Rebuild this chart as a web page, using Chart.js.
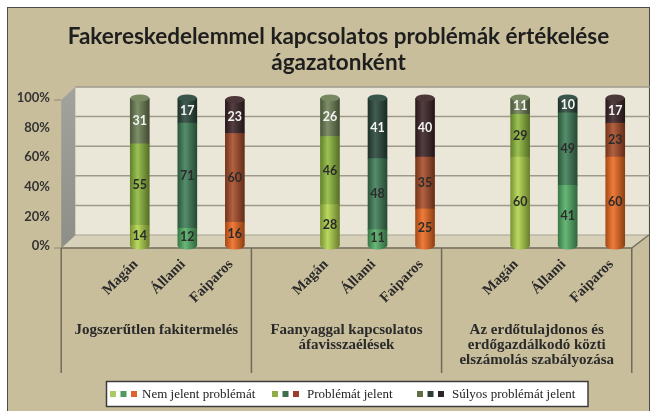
<!DOCTYPE html>
<html>
<head>
<meta charset="utf-8">
<script src="https://cdn.jsdelivr.net/npm/chart.js@4.4.1/dist/chart.umd.min.js"></script>
<style>
html, body { margin: 0; padding: 0; background: #fff; }
#wrap { position: relative; width: 657px; height: 411px; overflow: hidden; }
#frame { position: absolute; left: 7px; top: 7px; width: 641px; height: 420px; border: 1.5px solid #4b4b4b; background: #c9be9c; }
#chart { position: absolute; left: 0; top: 0; }
</style>
</head>
<body>
<div id="wrap">
  <div id="frame"></div>
  <canvas id="chart" width="657" height="411"></canvas>
</div>
<script>
const chartTitle = ['Fakereskedelemmel kapcsolatos problémák értékelése', 'ágazatonként'];
const sectors = ['Magán', 'Állami', 'Faiparos'];
const topics = [
    ['Jogszerűtlen fakitermelés'],
    ['Faanyaggal kapcsolatos', 'áfavisszaélések'],
    ['Az erdőtulajdonos és', 'erdőgazdálkodó közti', 'elszámolás szabályozása'],
];
const levels = ['Nem jelent problémát', 'Problémát jelent', 'Súlyos problémát jelent'];

// Magán, Állami, Faiparos for each topic in turn
const nemJelent = [14, 12, 16, 28, 11, 25, 60, 41, 60];
const problemat = [55, 71, 60, 46, 48, 35, 29, 49, 23];
const sulyos = [31, 17, 23, 26, 41, 40, 11, 10, 17];

// one colour per level and sector
const barColors = [
    ['#b0d44a', '#52ae66', '#ee6a20'],
    ['#8db83c', '#3e7d57', '#a84b27'],
    ['#6c7f54', '#29473a', '#3b2427'],
];
const legendColors = [
    ['#a9c963', '#4f9a60', '#e0622e'],
    ['#8fae48', '#3f6d4d', '#9b3d2c'],
    ['#5f6e46', '#2e3e34', '#2d2426'],
];

// an empty slot between two topics
function withGaps(values) {
    const out = [];
    values.forEach((v, i) => {
        if (i > 0 && i % 3 === 0) out.push(null);
        out.push(v);
    });
    return out;
}

const slotLabels = withGaps(topics.flatMap(() => sectors)).map((l) => l || '');
const sectorOf = withGaps(topics.flatMap(() => [0, 1, 2]));

function shade(hex, amt) {
    const n = parseInt(hex.slice(1), 16);
    const c = [(n >> 16) & 255, (n >> 8) & 255, n & 255].map((v) => {
        const t = amt < 0 ? 0 : 255;
        return Math.round(v + (t - v) * Math.abs(amt));
    });
    return `rgb(${c[0]},${c[1]},${c[2]})`;
}

const BAR_W = 19;

function cylinderFill(ctx, cx, w, base) {
    const g = ctx.createLinearGradient(cx - w / 2, 0, cx + w / 2, 0);
    g.addColorStop(0, shade(base, -0.3));
    g.addColorStop(0.38, shade(base, 0.12));
    g.addColorStop(1, shade(base, -0.4));
    return g;
}

function barFill(context, level) {
    const sector = sectorOf[context.dataIndex];
    if (sector === null || sector === undefined) return 'transparent';
    const base = barColors[level][sector];
    const chart = context.chart;
    if (!chart.chartArea || !chart.scales.x) return base;
    return cylinderFill(chart.ctx, chart.scales.x.getPixelForValue(context.dataIndex), BAR_W, base);
}

// back wall, floor and side wall of the 3D look, plus title, topic labels and legend
const stage = {
    id: 'stage',
    beforeDatasetsDraw(chart) {
        const { ctx, scales: { x, y } } = chart;
        const L = x.getPixelForValue(-1) - 31;
        const R = x.getPixelForValue(11) - 31;
        const yF = (v) => y.getPixelForValue(v) + 2;
        const yB = (v) => y.getPixelForValue(v) - 11;
        const dx = 14;
        ctx.save();
        ctx.fillStyle = '#ebe7d8';
        ctx.fillRect(L + dx, yB(100), R + 17 - (L + dx), yB(0) - yB(100));
        ctx.strokeStyle = '#9d998b';
        ctx.lineWidth = 1.5;
        [20, 40, 60, 80, 100].forEach((v) => {
            ctx.beginPath();
            ctx.moveTo(L + dx, yB(v));
            ctx.lineTo(R + 18, yB(v));
            ctx.stroke();
        });
        // floor
        ctx.fillStyle = '#d7d1b9';
        ctx.beginPath();
        ctx.moveTo(L, yF(0));
        ctx.lineTo(L + dx, yB(0));
        ctx.lineTo(R + 17, yB(0));
        ctx.lineTo(R, yF(0));
        ctx.closePath();
        ctx.fill();
        ctx.strokeStyle = '#a8a392';
        ctx.lineWidth = 1;
        ctx.stroke();
        // side wall
        const sg = ctx.createLinearGradient(0, yB(100), 0, yF(0));
        sg.addColorStop(0, '#a3a39d');
        sg.addColorStop(1, '#8e8e88');
        ctx.fillStyle = sg;
        ctx.beginPath();
        ctx.moveTo(L, yF(100));
        ctx.lineTo(L + dx, yB(100));
        ctx.lineTo(L + dx, yB(0));
        ctx.lineTo(L, yF(0));
        ctx.closePath();
        ctx.fill();
        // front edge
        ctx.strokeStyle = '#77725f';
        ctx.lineWidth = 1.5;
        ctx.beginPath();
        ctx.moveTo(L, yF(0));
        ctx.lineTo(R, yF(0));
        ctx.lineTo(R + 17, yB(0));
        ctx.stroke();
        // little ticks next to the percent labels
        ctx.strokeStyle = '#8a8676';
        ctx.lineWidth = 1;
        [0, 100].forEach((v) => {
            ctx.beginPath();
            ctx.moveTo(L - 7, yF(v));
            ctx.lineTo(L, yF(v));
            ctx.stroke();
        });
        ctx.restore();
    },
    afterDatasetsDraw(chart) {
        const { ctx } = chart;
        ctx.save();
        // rounded bottoms and tops of the cylinders
        chart.getDatasetMeta(0).data.forEach((el, i) => {
            const s = sectorOf[i];
            if (s === null) return;
            ctx.fillStyle = cylinderFill(ctx, el.x, BAR_W, barColors[0][s]);
            ctx.beginPath();
            ctx.ellipse(el.x, el.base, BAR_W / 2, 3.5, 0, 0, Math.PI);
            ctx.fill();
        });
        chart.getDatasetMeta(2).data.forEach((el, i) => {
            const s = sectorOf[i];
            if (s === null) return;
            ctx.fillStyle = shade(barColors[2][s], 0.08);
            ctx.beginPath();
            ctx.ellipse(el.x, el.y, BAR_W / 2, 3.5, 0, 0, Math.PI * 2);
            ctx.fill();
        });
        // value labels
        ctx.font = 'bold 12.5px Lato';
        ctx.textAlign = 'center';
        ctx.textBaseline = 'middle';
        chart.data.datasets.forEach((ds, di) => {
            chart.getDatasetMeta(di).data.forEach((el, i) => {
                const v = ds.data[i];
                if (v === null || v === undefined) return;
                ctx.fillStyle = di === 2 ? '#f3f3f3' : '#2b2b2b';
                ctx.fillText(String(v), el.x, (el.y + el.base) / 2);
            });
        });
        ctx.restore();
    },
    afterDraw(chart) {
        const { ctx, scales: { x, y } } = chart;
        const sep = (i) => x.getPixelForValue(i) - 31;
        const y0 = y.getPixelForValue(0) + 2;
        ctx.save();
        ctx.strokeStyle = '#6f6a5a';
        ctx.lineWidth = 1.5;
        [-1, 3, 7, 11].forEach((i) => {
            ctx.beginPath();
            ctx.moveTo(sep(i), y0);
            ctx.lineTo(sep(i), 373);
            ctx.stroke();
        });
        ctx.fillStyle = '#2a2a2a';
        ctx.font = 'bold 15px "Liberation Serif"';
        ctx.textAlign = 'center';
        ctx.textBaseline = 'middle';
        topics.forEach((lines, k) => {
            const cx = (sep(k * 4 - 1) + sep(k * 4 + 3)) / 2;
            lines.forEach((line, j) => ctx.fillText(line, cx, 330 + j * 15));
        });
        ctx.fillStyle = '#1e1e1e';
        ctx.font = 'bold 22.5px Lato';
        chartTitle.forEach((line, j) => ctx.fillText(line, 338.5, 37 + j * 26));

        // legend box
        ctx.fillStyle = '#ffffff';
        ctx.fillRect(106.5, 381.5, 481.5, 25);
        ctx.strokeStyle = '#3c3c3c';
        ctx.lineWidth = 1.5;
        ctx.strokeRect(106.5, 381.5, 481.5, 25);
        const squareX = [110, 272, 417];
        const textX = [142, 307, 452];
        ctx.font = '13px "Liberation Serif"';
        ctx.textAlign = 'left';
        ctx.fillStyle = '#222';
        levels.forEach((name, li) => {
            legendColors[li].forEach((col, si) => {
                ctx.fillStyle = col;
                ctx.fillRect(squareX[li] + si * 10.5, 391, 6, 6);
            });
            ctx.fillStyle = '#222';
            ctx.fillText(name, textX[li], 394.5);
        });
        ctx.restore();
    },
};

new Chart(document.getElementById('chart'), {
    type: 'bar',
    data: {
        labels: slotLabels,
        datasets: [nemJelent, problemat, sulyos].map((vals, li) => ({
            label: levels[li],
            data: withGaps(vals),
            backgroundColor: (c) => barFill(c, li),
            borderWidth: 0,
            barThickness: BAR_W,
        })),
    },
    options: {
        responsive: false,
        animation: false,
        events: [],
        layout: { padding: { left: 0, right: 18, top: 98, bottom: 0 }, autoPadding: false },
        plugins: {
            legend: { display: false },
            tooltip: { enabled: false },
            title: { display: false },
        },
        scales: {
            x: {
                stacked: true,
                afterFit: (s) => { s.height = 165; },
                grid: { display: false, drawTicks: false },
                border: { display: false },
                ticks: {
                    autoSkip: false,
                    maxRotation: 45,
                    minRotation: 45,
                    padding: 10,
                    labelOffset: -4,
                    color: '#2a2a2a',
                    font: { family: 'Liberation Serif', weight: 'bold', size: 14.5 },
                },
            },
            y: {
                stacked: true,
                min: 0,
                max: 100,
                afterFit: (s) => { s.width = 116; },
                grid: { display: false, drawTicks: false },
                border: { display: false },
                ticks: {
                    stepSize: 20,
                    padding: 66,
                    color: '#333',
                    callback: (v) => v + '%',
                    font: { family: 'Lato', weight: 'bold', size: 13 },
                },
            },
        },
    },
    plugins: [stage],
});
</script>
</body>
</html>
